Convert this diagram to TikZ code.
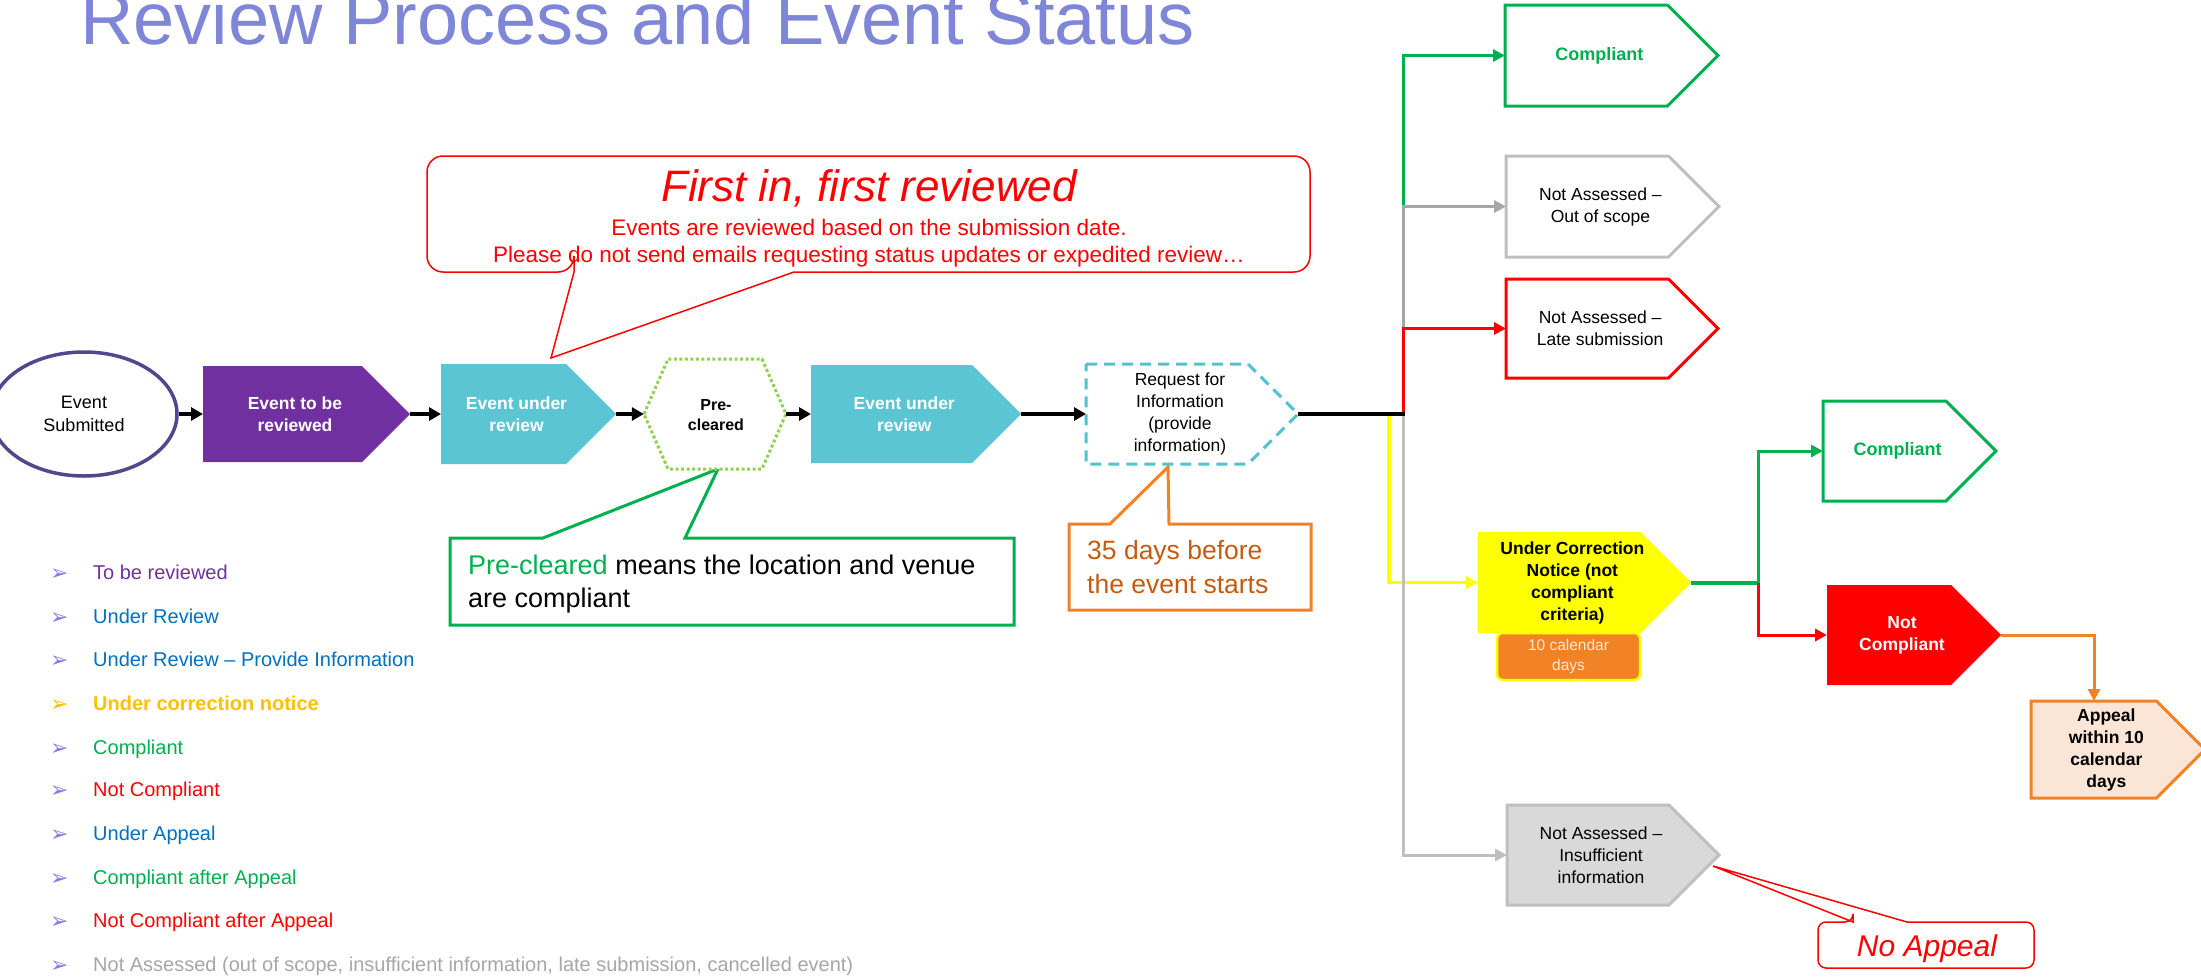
\documentclass[tikz,border=0pt]{standalone}
\usepackage{fontspec}
\setmainfont{Liberation Sans}
\newfontfamily\symfont{DejaVu Sans}
\usetikzlibrary{arrows.meta,shapes.geometric}

\definecolor{ttl}{RGB}{127,134,216}
\definecolor{ellc}{RGB}{78,72,140}
\definecolor{purp}{RGB}{112,48,160}
\definecolor{tealc}{RGB}{91,197,211}
\definecolor{lgreen}{RGB}{146,208,80}
\definecolor{dteal}{RGB}{79,195,208}
\definecolor{gr}{RGB}{0,176,80}
\definecolor{rd}{RGB}{255,0,0}
\definecolor{ylw}{RGB}{255,255,0}
\definecolor{org}{RGB}{241,130,38}
\definecolor{orgtxt}{RGB}{197,90,17}
\definecolor{peach}{RGB}{251,229,214}
\definecolor{gry}{RGB}{191,191,191}
\definecolor{gryd}{RGB}{166,166,166}
\definecolor{gryf}{RGB}{217,217,217}
\definecolor{blu}{RGB}{0,112,192}
\definecolor{gold}{RGB}{255,192,0}
\definecolor{bul}{RGB}{128,128,224}
\definecolor{calt}{RGB}{253,233,217}

% pentagon (arrow-box): #1 name, #2 path style, #3 x1, #4 y1, #5 x2, #6 y2, #7 text style, #8 text
\newcommand\pent[8]{%
  \path[#2] (#3,#4) -- ({#5-0.5*(#6-#4)},#4) -- (#5,{0.5*(#4+#6)}) -- ({#5-0.5*(#6-#4)},#6) -- (#3,#6) -- cycle;
  \node[inner sep=0pt, outer sep=0pt, minimum width={#5-#3}, minimum height={#6-#4}] (#1) at ({0.5*(#3+#5)},{0.5*(#4+#6)}) {};
  \node[#7] (#1t) at ({0.5*(#3+#5)-0.12*(#6-#4)},{0.5*(#4+#6)}) {#8};
}

\begin{document}
\begin{tikzpicture}[x=1pt,y=-1pt,
  bt/.style={align=center, font=\bfseries\fontsize{17.5}{22}\selectfont, inner sep=0pt},
  rt/.style={align=center, font=\fontsize{17.5}{22}\selectfont, inner sep=0pt},
  conn/.style={line width=3pt, -{Triangle[length=12pt,width=12pt]}},
  blk/.style={line width=4pt, -{Triangle[length=12pt,width=13pt]}},
  legend/.style={anchor=base west, inner sep=0pt, font=\fontsize{20}{24}\selectfont},
  bullet/.style={anchor=base west, inner sep=0pt, font=\symfont\fontsize{22}{22}\selectfont, text=bul},
  border/.style={line width=3pt}]

\useasboundingbox (0,0) rectangle (2201,977);
\fill[white] (0,0) rectangle (2201,977);

% title
\node[anchor=base west, inner sep=0pt, font=\fontsize{74}{80}\selectfont, text=ttl] (title) at (80,44) {Review Process and Event Status};

% callouts
\draw[rd, line width=1.5pt, fill=white] (574,272) -- (551,358) -- (794,272)
  {[rounded corners=16pt] -- (1310,272) -- (1310,156) -- (427,156) -- (427,272) -- (574,272)} -- cycle;
\node[anchor=base, inner sep=0pt, text=rd, font=\itshape\fontsize{44}{50}\selectfont] (fi1) at (869,201) {First in, first reviewed};
\node[anchor=base, inner sep=0pt, text=rd, font=\fontsize{22.5}{26}\selectfont] (fi2) at (869,235) {Events are reviewed based on the submission date.};
\node[anchor=base, inner sep=0pt, text=rd, font=\fontsize{22.5}{26}\selectfont] (fi3) at (869,262) {Please do not send emails requesting status updates or expedited review…};

\draw[gr, border, fill=white] (543,538) -- (718,469) -- (685,538) -- (1014,538) -- (1014,625) -- (450,625) -- (450,538) -- cycle;
\node[anchor=base west, inner sep=0pt, font=\fontsize{27}{33}\selectfont] (pc1) at (468,574) {\textcolor{gr}{Pre-cleared} means the location and venue};
\node[anchor=base west, inner sep=0pt, font=\fontsize{27}{33}\selectfont] (pc2) at (468,607) {are compliant};

\draw[org, border, fill=white] (1110,524) -- (1168,467) -- (1169,524) -- (1311,524) -- (1311,610) -- (1069,610) -- (1069,524) -- cycle;
\node[anchor=base west, inner sep=0pt, text=orgtxt, font=\fontsize{26.5}{33}\selectfont] (d1) at (1087,559) {35 days before};
\node[anchor=base west, inner sep=0pt, text=orgtxt, font=\fontsize{26.5}{33}\selectfont] (d2) at (1087,593) {the event starts};

\draw[rd, line width=1.5pt, fill=white] (1853,922) -- (1713,866) -- (1907,922)
  {[rounded corners=8pt] -- (2034,922) -- (2034,968) -- (1818,968) -- (1818,922) -- (1853,922)} -- cycle;
\node[anchor=base, inner sep=0pt, text=rd, font=\itshape\fontsize{30}{34}\selectfont] (na) at (1927,956) {No Appeal};

% main flow
\node[ellipse, draw=ellc, line width=3.5pt, fill=white, minimum width=186pt, minimum height=124pt, inner sep=0pt, align=center, font=\fontsize{18}{23}\selectfont] (sub) at (84,414) {Event\\Submitted};

\pent{p1}{fill=purp}{203}{366}{410}{462}{bt, text=white}{Event to be\\reviewed}
\pent{t1}{fill=tealc}{441}{364}{616}{464}{bt, text=white}{Event under\\review}
\draw[lgreen, line width=3pt, dash pattern=on 3pt off 2.5pt, fill=white] (644,414) -- (668,359) -- (762,359) -- (786,414) -- (762,469) -- (668,469) -- cycle;
\node[inner sep=0pt, minimum width=142pt, minimum height=110pt] (hex) at (715,414) {};
\node[align=center, inner sep=0pt, font=\bfseries\fontsize{16}{20}\selectfont] (hext) at (716,415) {Pre-\\cleared};
\pent{t2}{fill=tealc}{811}{365}{1021}{463}{bt, text=white}{Event under\\review}
\pent{rq}{draw=dteal, line width=3pt, dash pattern=on 11pt off 7pt, fill=white}{1086}{364}{1298}{464}{rt}{Request for\\Information\\(provide\\information)}

\draw[blk] (sub.east) -- (p1.west);
\draw[blk] (p1.east) -- (t1.west);
\draw[blk] (t1.east) -- (hex.west);
\draw[blk] (hex.east) -- (t2.west);
\draw[blk] (t2.east) -- (rq.west);

% outcomes
\pent{c1}{draw=gr, border, fill=white}{1505}{5}{1718}{106}{bt, text=gr, font=\bfseries\fontsize{18}{22}\selectfont}{Compliant}
\pent{na1}{draw=gry, border, fill=white}{1506}{156}{1719}{257}{rt}{Not Assessed –\\Out of scope}
\pent{na2}{draw=rd, border, fill=white}{1506}{279}{1718}{378}{rt}{Not Assessed –\\Late submission}
\pent{uc}{fill=ylw}{1478}{532}{1691}{633}{bt}{Under Correction\\Notice (not\\compliant\\criteria)}
\node[draw=ylw, line width=2.5pt, fill=org, rounded corners=6pt, minimum width=143pt, minimum height=47pt, inner sep=0pt, align=center, text=calt, font=\fontsize{15.5}{20}\selectfont] (cal) at (1568.5,656.5) {10 calendar\\days};
\pent{c2}{draw=gr, border, fill=white}{1823}{401}{1996}{501}{bt, text=gr, font=\bfseries\fontsize{18}{22}\selectfont}{Compliant}
\pent{nc}{fill=rd}{1827}{585}{2001}{685}{bt, text=white}{Not\\Compliant}
\pent{ap}{draw=org, border, fill=peach}{2031}{701}{2205}{798}{bt}{Appeal\\within 10\\calendar\\days}
\pent{na3}{draw=gry, border, fill=gryf}{1507}{805}{1719}{905}{rt}{Not Assessed –\\Insufficient\\information}

\coordinate (J) at (1403,414);
\coordinate (Jy) at (1389,414);
\coordinate (K) at (1758,582.5);

\draw[gr, conn] (J) |- (c1.west);
\draw[gryd, conn] (J) |- (na1.west);
\draw[rd, conn] (J) |- (na2.west);
\draw[ylw, line width=3.5pt, -{Triangle[length=12pt,width=12pt]}] (Jy) |- (uc.west);
\draw[gry, conn] (J) |- (na3.west);
\draw[line width=4pt] (rq.east) -- ([xshift=2pt]J);

\draw[gr, line width=4pt] (uc.east) -- (K);
\draw[gr, conn] (K) |- (c2.west);
\draw[rd, conn] (K) |- (nc.west);
\draw[org, conn] (nc.east) -| ([xshift=-24pt]ap.north);

% legend
\node[bullet] (b1) at (50,580) {➢};
\node[legend, text=purp] (l1) at (93,579) {To be reviewed};
\node[bullet] (b2) at (50,624) {➢};
\node[legend, text=blu] (l2) at (93,623) {Under Review};
\node[bullet] (b3) at (50,667) {➢};
\node[legend, text=blu] (l3) at (93,666) {Under Review – Provide Information};
\node[bullet, text=gold] (b4) at (50,711) {➢};
\node[legend, text=gold, font=\bfseries\fontsize{20}{24}\selectfont] (l4) at (93,710) {Under correction notice};
\node[bullet] (b5) at (50,755) {➢};
\node[legend, text=gr] (l5) at (93,754) {Compliant};
\node[bullet] (b6) at (50,797) {➢};
\node[legend, text=rd] (l6) at (93,796) {Not Compliant};
\node[bullet] (b7) at (50,841) {➢};
\node[legend, text=blu] (l7) at (93,840) {Under Appeal};
\node[bullet] (b8) at (50,885) {➢};
\node[legend, text=gr] (l8) at (93,884) {Compliant after Appeal};
\node[bullet] (b9) at (50,928) {➢};
\node[legend, text=rd] (l9) at (93,927) {Not Compliant after Appeal};
\node[bullet] (b10) at (50,972) {➢};
\node[legend, text=gryd] (l10) at (93,971) {Not Assessed (out of scope, insufficient information, late submission, cancelled event)};

\end{tikzpicture}
\end{document}
